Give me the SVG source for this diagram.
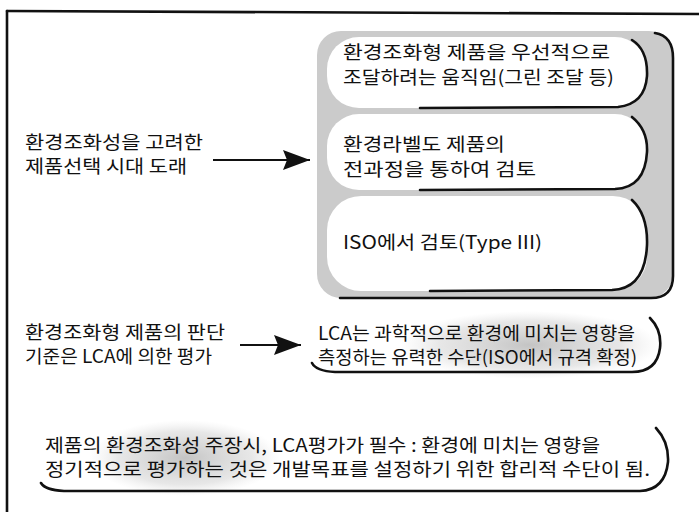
<svg xmlns="http://www.w3.org/2000/svg" width="699" height="512" viewBox="0 0 699 512">
<defs>
<style>
text{font-family:"Noto Sans CJK KR","Noto Sans",sans-serif;font-size:18px;fill:#111;}
.ln{stroke:#111;fill:none;stroke-width:2.6;stroke-linecap:round;}
.conn{stroke:#111;stroke-width:2.2;fill:none;}
.wb{fill:#fff;}
</style>
<marker id="ah" markerWidth="27" markerHeight="20" refX="27" refY="10" orient="auto" markerUnits="userSpaceOnUse">
<path d="M0,0 L27,10 L0,20 L4,10 Z" fill="#111"/>
</marker>
<radialGradient id="gs" cx="0.5" cy="0.5" r="0.5">
<stop offset="0" stop-color="#bdbdbd" stop-opacity="0.9"/>
<stop offset="0.7" stop-color="#cfcfcf" stop-opacity="0.5"/>
<stop offset="1" stop-color="#e0e0e0" stop-opacity="0"/>
</radialGradient>
</defs>
<rect width="699" height="512" fill="#fff"/>
<g id="frame">
<path d="M7,11 L699,14" class="ln" stroke-width="1.6"/>
<path d="M7,11 L7,512" class="ln" stroke-width="1.6"/>
</g>
<g id="panel">
<rect x="317" y="31" width="356" height="267" rx="24" fill="#cbcbcb"/>
<path d="M655,33 Q673,36 673,58 L673,276 Q673,298 651,298 L340,298" class="ln" stroke-width="2"/>
</g>
<g id="box1">
<rect x="327" y="37" width="320" height="71" rx="32" class="wb"/>
<path d="M632,40 Q648,50 647,76 Q645,104 618,107 L420,108" class="ln"/>
<text x="343" y="59" textLength="267" lengthAdjust="spacingAndGlyphs">환경조화형 제품을 우선적으로</text>
<text x="343" y="84" textLength="271" lengthAdjust="spacingAndGlyphs">조달하려는 움직임(그린 조달 등)</text>
</g>
<g id="box2">
<rect x="327" y="114" width="320" height="76" rx="32" class="wb"/>
<path d="M632,117 Q648,130 647,152 Q645,188 615,189 L420,190" class="ln"/>
<text x="343" y="151" textLength="162" lengthAdjust="spacingAndGlyphs">환경라벨도 제품의</text>
<text x="343" y="176" textLength="193" lengthAdjust="spacingAndGlyphs">전과정을 통하여 검토</text>
</g>
<g id="box3">
<rect x="327" y="196" width="320" height="95" rx="34" class="wb"/>
<path d="M632,200 Q648,215 647,245 Q645,289 612,290 L430,291" class="ln"/>
<text x="343" y="249" textLength="199" lengthAdjust="spacingAndGlyphs">ISO에서 검토(Type III)</text>
</g>
<g id="left1">
<text x="25" y="149" textLength="178" lengthAdjust="spacingAndGlyphs">환경조화성을 고려한</text>
<text x="25" y="173" textLength="162" lengthAdjust="spacingAndGlyphs">제품선택 시대 도래</text>
</g>
<g id="left2">
<text x="25" y="339" textLength="200" lengthAdjust="spacingAndGlyphs">환경조화형 제품의 판단</text>
<text x="25" y="363" textLength="187" lengthAdjust="spacingAndGlyphs">기준은 LCA에 의한 평가</text>
</g>
<g id="box4">
<ellipse cx="530" cy="345" rx="130" ry="34" fill="url(#gs)"/>
<path d="M650,318 Q662,330 660,348 Q657,372 632,372 L335,372 Q316,371 312,363" class="ln" stroke-width="2.2"/>
<text x="318" y="340" textLength="317" lengthAdjust="spacingAndGlyphs">LCA는 과학적으로 환경에 미치는 영향을</text>
<text x="318" y="364" textLength="319" lengthAdjust="spacingAndGlyphs">측정하는 유력한 수단(ISO에서 규격 확정)</text>
</g>
<g id="box5">
<ellipse cx="185" cy="458" rx="95" ry="38" fill="url(#gs)"/>
<path d="M656,428 Q669,442 668,462 Q665,490 640,491 L64,491 Q45,490 41,483" class="ln" stroke-width="2.2"/>
<text x="45" y="452" textLength="555" lengthAdjust="spacingAndGlyphs">제품의 환경조화성 주장시, LCA평가가 필수 : 환경에 미치는 영향을</text>
<text x="45" y="476" textLength="605" lengthAdjust="spacingAndGlyphs">정기적으로 평가하는 것은 개발목표를 설정하기 위한 합리적 수단이 됨.</text>
</g>
<g id="connectors">
<line x1="213" y1="160" x2="310" y2="160" class="conn" marker-end="url(#ah)"/>
<line x1="240" y1="345" x2="301" y2="345" class="conn" marker-end="url(#ah)"/>
</g>
</svg>
